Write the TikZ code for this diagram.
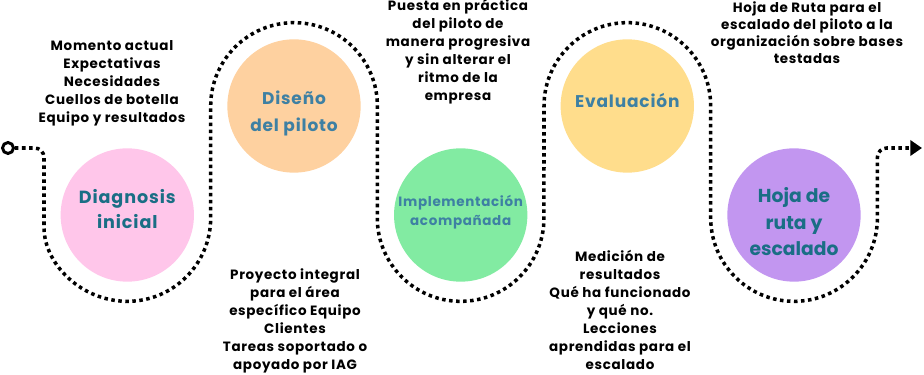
\documentclass[tikz,border=0pt]{standalone}
\usepackage{fontspec}
\setmainfont{Poppins}
\newfontfamily\espaciada[LetterSpace=5]{Poppins}
\usepackage{tikz}
\usetikzlibrary{positioning,arrows.meta,calc}
\usepackage{xcolor}

\definecolor{rosa}{HTML}{FFC6EA}
\definecolor{naranja}{HTML}{FED1A0}
\definecolor{verde}{HTML}{82EBA2}
\definecolor{amarillo}{HTML}{FFDD8C}
\definecolor{lila}{HTML}{C296F0}
\definecolor{tealosc}{HTML}{1A6E85}
\definecolor{azulet}{HTML}{3E80A3}

\tikzset{
  etapa/.style={circle, minimum size=4cm, inner sep=0pt},
  rotulo/.style={align=center, text=azulet},
  nota/.style={align=center, font=\espaciada\bfseries\fontsize{11.5}{15.4}\selectfont},
  camino/.style={line width=3pt, dash pattern=on 3pt off 3pt},
}

\begin{document}
\begin{tikzpicture}[x=0.03cm, y=0.03cm]
  \useasboundingbox (0,0) rectangle (924,-375);

  % etapas
  \node[etapa, fill=rosa] (diag) at (127.3,-215) {};
  \node[etapa, fill=naranja] (disenio) at (294,-106) {};
  \node[etapa, fill=verde] (impl) at (460.7,-215) {};
  \node[etapa, fill=amarillo] (eval) at (627.3,-106) {};
  \node[etapa, fill=lila] (hoja) at (794,-215) {};

  \node[rotulo, text=tealosc, font=\espaciada\bfseries\fontsize{15}{21}\selectfont] (diaglbl) at ($(diag)+(0,6)$) {Diagnosis\\inicial};
  \node[rotulo, font=\espaciada\bfseries\fontsize{14.5}{23}\selectfont] (diselbl) at ($(disenio)+(0,-7)$) {Diseño\\del piloto};
  \node[rotulo, font=\espaciada\bfseries\fontsize{11.5}{16}\selectfont] (impllbl) at ($(impl)+(0,3)$) {Implementación\\acompañada};
  \node[rotulo, font=\espaciada\bfseries\fontsize{14.5}{21}\selectfont] (evallbl) at ($(eval)+(0,6)$) {Evaluación};
  \node[rotulo, text=tealosc, font=\bfseries\fontsize{16}{22.6}\selectfont] (hojalbl) at ($(hoja)+(0,-7)$) {Hoja de\\ruta y\\escalado};

  % textos
  \node[nota] (diagtxt) at (112,-83) {Momento actual\\Expectativas\\Necesidades\\Cuellos de botella\\Equipo y resultados};
  \node[nota] (disetxt) at (295,-321) {Proyecto integral\\para el área\\específico Equipo\\Clientes\\Tareas soportado o\\apoyado por IAG};
  \node[nota] (impltxt) at (458,-52) {Puesta en práctica\\del piloto de\\manera progresiva\\y sin alterar el\\ritmo de la\\empresa};
  \node[nota] (evaltxt) at (620,-310) {Medición de\\resultados\\Qué ha funcionado\\y qué no.\\Lecciones\\aprendidas para el\\escalado};
  \node[nota, font=\espaciada\bfseries\fontsize{11.5}{14.5}\selectfont] (hojatxt) at (807,-33) {Hoja de Ruta para el\\escalado del piloto a la\\organización sobre bases\\testadas};

  % recorrido
  \node[circle, draw, line width=2.5pt, minimum size=0.33cm, inner sep=0pt] (inicio) at (8,-148) {};
  \coordinate (fin) at (922,-148);
  \draw[camino, -{Triangle[length=10pt,width=13pt]}] (inicio.east)
    [rounded corners=8pt] -| (44,-218) [sharp corners]
    arc[start angle=180, end angle=360, radius=2.5cm] -- (210.7,-106)
    arc[start angle=180, end angle=0, radius=2.5cm] -- (377.3,-218)
    arc[start angle=180, end angle=360, radius=2.5cm] -- (544,-106)
    arc[start angle=180, end angle=0, radius=2.5cm] -- (710.7,-218)
    arc[start angle=180, end angle=360, radius=2.5cm]
    [rounded corners=8pt] |- (fin);
\end{tikzpicture}
\end{document}
